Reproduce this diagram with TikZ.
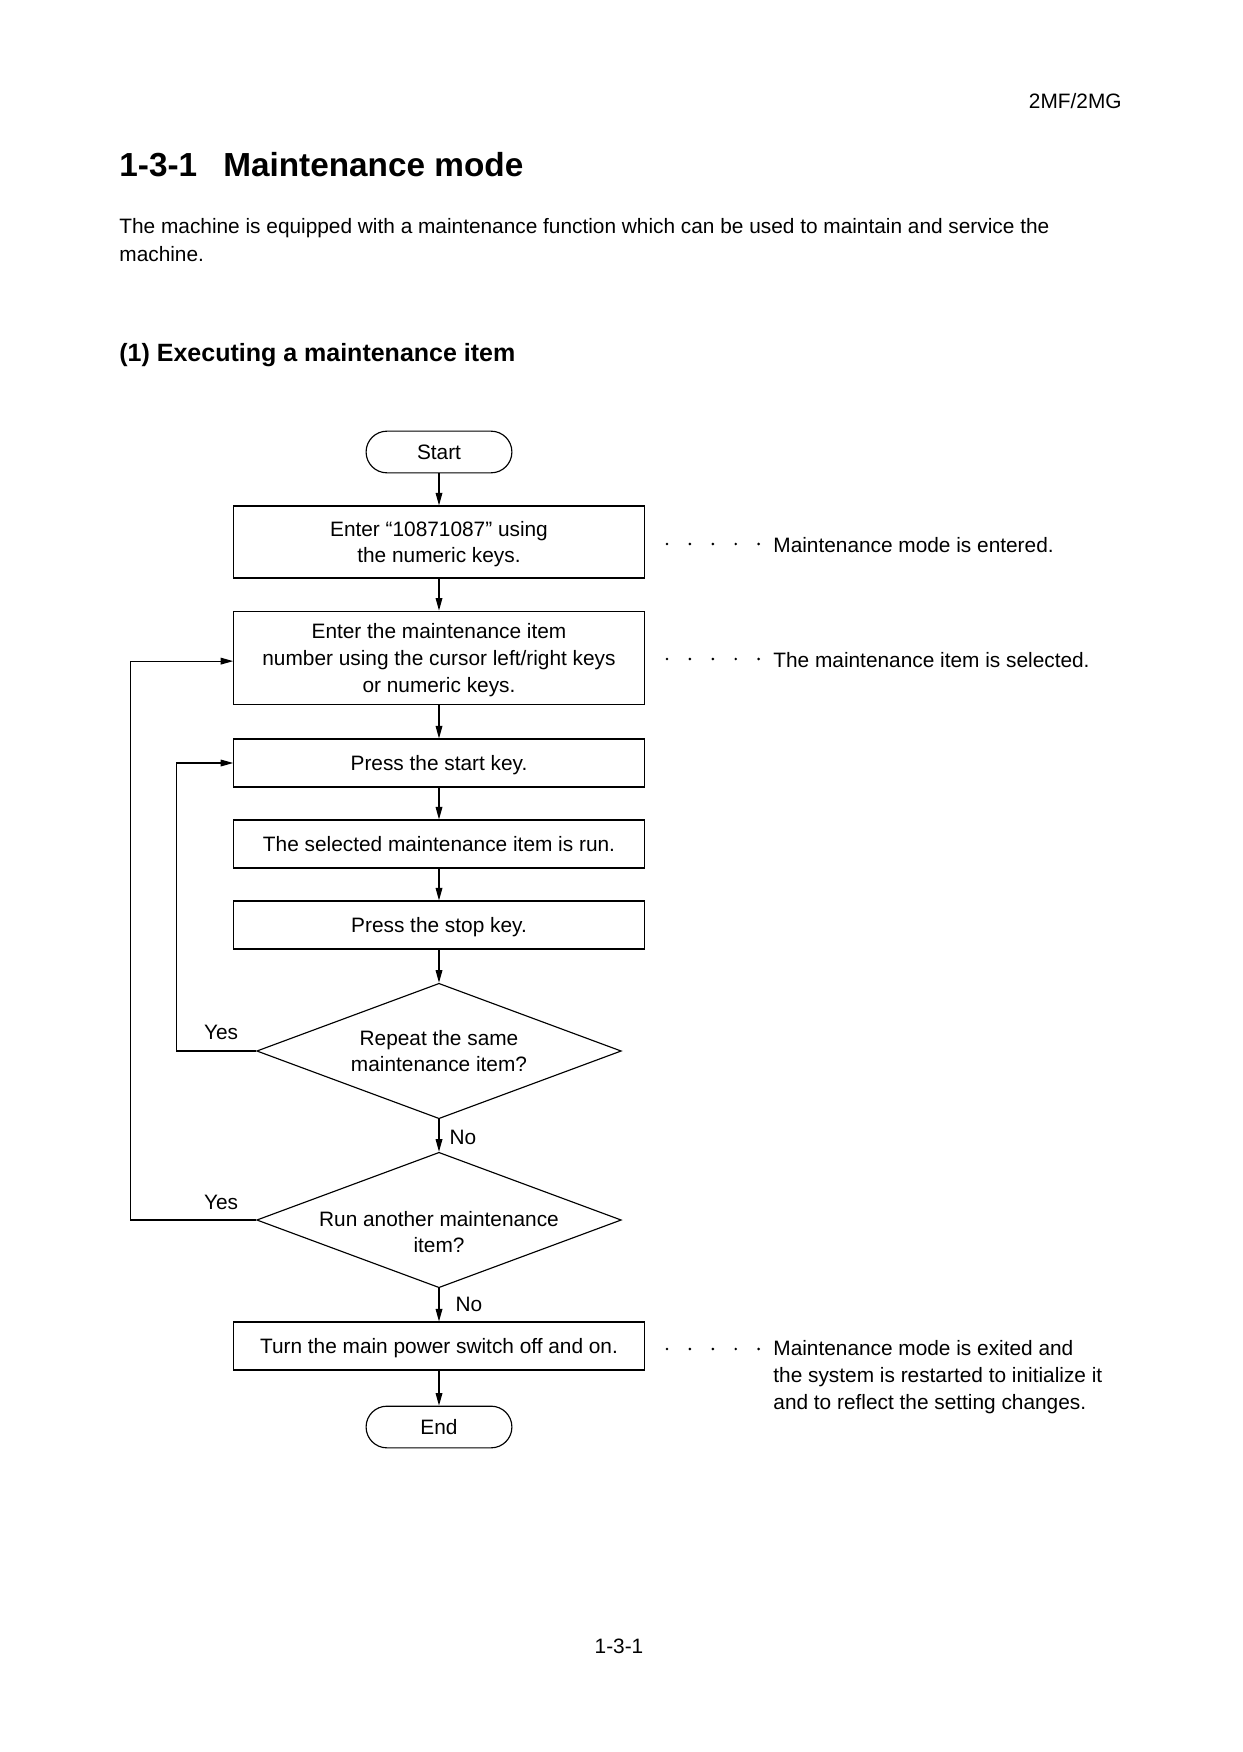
\documentclass[tikz,border=0pt]{standalone}
\usepackage{fontspec}
\setmainfont{Liberation Sans}
\usetikzlibrary{shapes.geometric,arrows.meta}

\newcommand\bodyfont{\fontsize{10}{12.8}\selectfont}
\newcommand\titlefont{\fontsize{16}{19}\selectfont\bfseries}
\newcommand\headfont{\fontsize{12}{14}\selectfont\bfseries}

\tikzset{
  stepbox/.style={draw, line width=.55pt, minimum width=197pt, minimum height=23pt,
    inner sep=2pt, text depth=-1pt, align=center, font=\bodyfont},
  termbox/.style={draw, line width=.55pt, rounded corners=10pt, minimum width=70pt,
    minimum height=20pt, font=\bodyfont},
  askbox/.style={draw, diamond, line width=.55pt, aspect=2.7, minimum width=175pt,
    minimum height=65pt, inner sep=0pt, align=center, font=\bodyfont},
  flow/.style={line width=.55pt, -{Triangle[length=6pt,width=3.2pt]}},
  note/.style={anchor=west, inner sep=0pt, align=left, font=\bodyfont},
  leader/.style={line width=1.4pt, line cap=round, dash pattern=on 0pt off 11pt},
  lbl/.style={inner sep=0pt, font=\bodyfont}
}

\begin{document}
\begin{tikzpicture}[x=.48pt, y=-.48pt]
\useasboundingbox (0,0) rectangle (1242,1752);

% page header
\node[anchor=east, inner sep=0pt, font=\bodyfont] (model) at (1122,101) {2MF/2MG};
\node[anchor=west, inner sep=0pt, font=\titlefont] (title) at (119,165) {1-3-1\hspace{12.5pt}Maintenance mode};
\node[anchor=west, inner sep=0pt, align=left, font=\fontsize{10}{13.4}\selectfont] (intro) at (119,240)
  {The machine is equipped with a maintenance function which can be used to maintain and service the\\machine.};
\node[anchor=west, inner sep=0pt, font=\headfont] (sub) at (119,355) {(1) Executing a maintenance item};

% flow steps
\node[termbox] (start) at (439,452) {Start};
\node[stepbox, minimum height=34.6pt] (enter) at (439,542) {Enter “10871087” using\\the numeric keys.};
\node[stepbox, minimum height=45pt] (item) at (439,658) {Enter the maintenance item\\number using the cursor left/right keys\\or numeric keys.};
\node[stepbox] (startkey) at (439,763) {Press the start key.};
\node[stepbox] (run) at (439,844) {The selected maintenance item is run.};
\node[stepbox] (stopkey) at (439,925) {Press the stop key.};
\node[askbox] (same) at (439,1051) {Repeat the same\\maintenance item?};
\node[askbox] (another) at (439,1220) {};
\node[lbl, align=center] (anotherq) at (439,1232) {Run another maintenance\\item?};
\node[stepbox] (power) at (439,1346) {Turn the main power switch off and on.};
\node[termbox] (end) at (439,1427) {End};

% connectors
\draw[flow] (start) -- (enter);
\draw[flow] (enter) -- (item);
\draw[flow] (item) -- (startkey);
\draw[flow] (startkey) -- (run);
\draw[flow] (run) -- (stopkey);
\draw[flow] (stopkey) -- (same);
\draw[flow] (same) -- (another);
\draw[flow] (another) -- (power);
\draw[flow] (power) -- (end);

% loops back
\draw[flow] (same.west) -- ++(-80,0) |- (startkey.west);
\draw[flow] (another.west) -- ++(-126,0) |- ([yshift=-1.5pt]item.west);

% branch labels
\node[lbl] (yes1) at (221,1032) {Yes};
\node[lbl] (yes2) at (221,1202) {Yes};
\node[lbl] (no1) at (463,1137) {No};
\node[lbl] (no2) at (469,1304) {No};

% notes
\node[note] (note1) at (773,545) {Maintenance mode is entered.};
\node[note] (note2) at (773,660) {The maintenance item is selected.};
\node[note] (note3) at (773,1377) {Maintenance mode is exited and\\the system is restarted to initialize it\\and to reflect the setting changes.};
\draw[leader] (667,544) -- (760,544);
\draw[leader] (667,659) -- (760,659);
\draw[leader] (667,1349) -- (760,1349);

% page number
\node[inner sep=0pt, font=\bodyfont] (page) at (619,1646) {1-3-1};
\end{tikzpicture}
\end{document}
